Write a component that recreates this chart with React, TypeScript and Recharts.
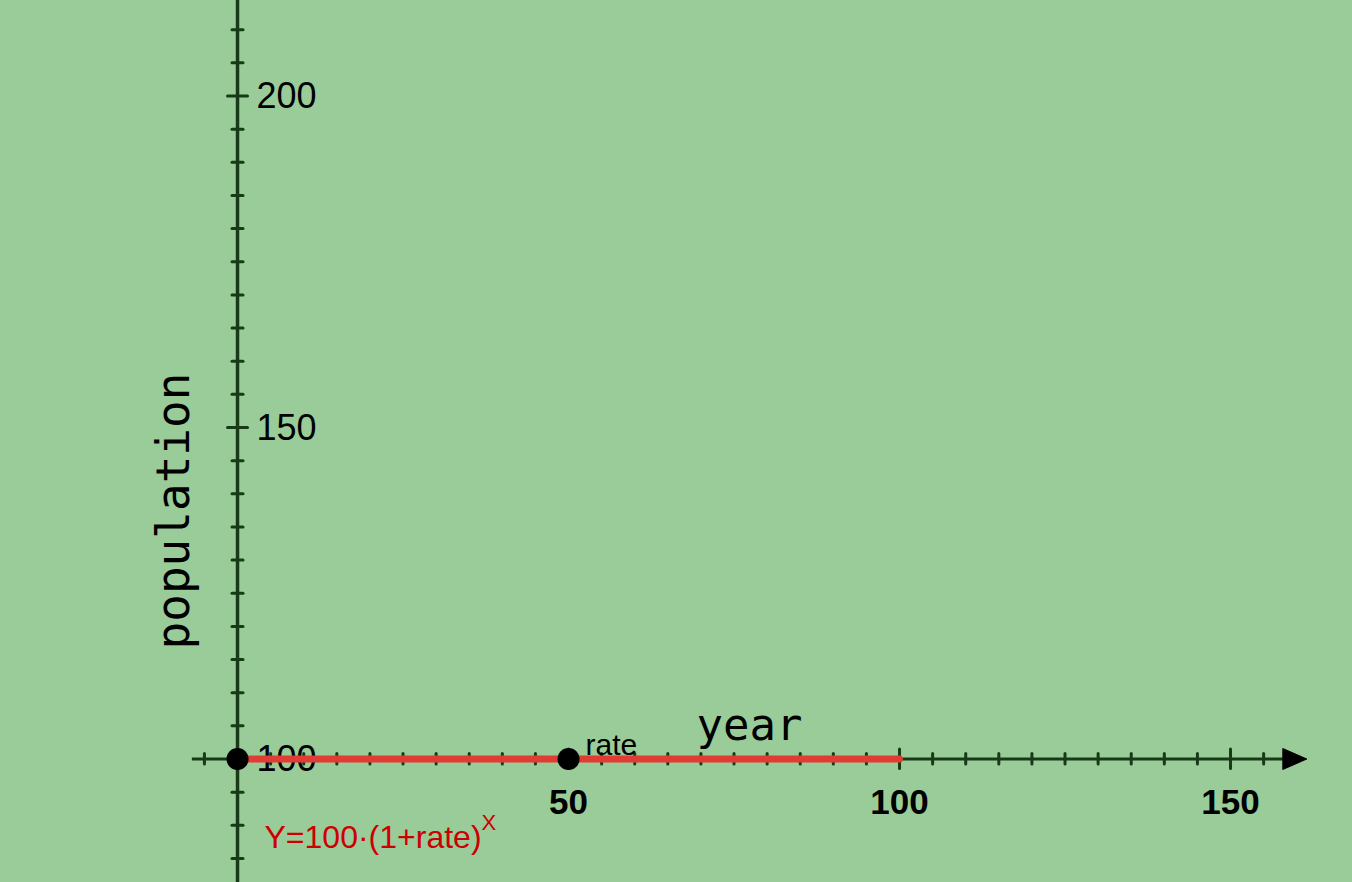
import React from 'react';
import { ComposedChart, XAxis, YAxis, Scatter, ReferenceLine } from 'recharts';

// ---- data ----
const curveYears = [0, 100];
const curvePopulation = [100, 100];
const pointYears = [0, 50];
const pointPopulation = [100, 100];
const pointLabels = ['', 'rate'];
const xMajorTicks = [50, 100, 150];
const xTickLabels = ['50', '100', '150'];
const xMinorTicks = [-5, 5, 10, 15, 20, 25, 30, 35, 40, 45, 55, 60, 65, 70, 75, 80, 85, 90, 95, 105, 110, 115, 120, 125, 130, 135, 140, 145, 155];
const yMajorTicks = [100, 150, 200];
const yTickLabels = ['100', '150', '200'];
const yMinorTicks = [85, 90, 95, 105, 110, 115, 120, 125, 130, 135, 140, 145, 155, 160, 165, 170, 175, 180, 185, 190, 195, 205, 210];
const xAxisTitle = 'year';
const yAxisTitle = 'population';
const formulaText = 'Y=100·(1+rate)';
const formulaExponent = 'X';

// ---- view ----
const X_DOMAIN: [number, number] = [-35.88, 168.35];
const Y_DOMAIN: [number, number] = [81.45, 214.48];
const X_AXIS_START = -6.9;
const X_AXIS_END = 157.9;
const ORIGIN_X = 0;
const ORIGIN_Y = 100;

const W = 1352;
const H = 882;
const BG = '#99cc99';
const AXIS = '#173a17';
const RED = '#e23b33';
const FONT = '"Liberation Sans", Arial, Helvetica, sans-serif';
const MONO = '"DejaVu Sans Mono", "Liberation Mono", monospace';

const curveData = curveYears.map((x, i) => ({ x, y: curvePopulation[i] }));
const pointData = pointYears.map((x, i) => ({ x, y: pointPopulation[i], label: pointLabels[i] }));
const xMinorData = xMinorTicks.map((x) => ({ x, y: ORIGIN_Y }));
const xMajorData = xMajorTicks.map((x, i) => ({ x, y: ORIGIN_Y, label: xTickLabels[i] }));
const yMinorData = yMinorTicks.map((y) => ({ x: ORIGIN_X, y }));
const yMajorData = yMajorTicks.map((y, i) => ({ x: ORIGIN_X, y, label: yTickLabels[i], major: y !== ORIGIN_Y }));
const originData = [{ x: ORIGIN_X, y: ORIGIN_Y }];
const arrowData = [{ x: X_AXIS_END, y: ORIGIN_Y }];

export default function App() {
  return (
    <div style={{ position: 'absolute', left: 0, top: 0, width: W, height: H, background: BG }}>
      <ComposedChart width={W} height={H} margin={{ top: 0, right: 0, bottom: 0, left: 0 }}>
        <XAxis type="number" dataKey="x" domain={X_DOMAIN} hide allowDataOverflow />
        <YAxis type="number" dataKey="y" domain={Y_DOMAIN} hide allowDataOverflow />

        {/* axes lines */}
        <ReferenceLine x={ORIGIN_X} stroke={AXIS} strokeWidth={3.5} />
        <ReferenceLine
          segment={[{ x: X_AXIS_START, y: ORIGIN_Y }, { x: X_AXIS_END, y: ORIGIN_Y }]}
          stroke={AXIS}
          strokeWidth={3}
        />

        {/* arrow head */}
        <Scatter
          data={arrowData}
          dataKey="y"
          isAnimationActive={false}
          shape={(p: any) => (
            <polygon
              points={`${p.cx},${p.cy - 10.5} ${p.cx + 24},${p.cy} ${p.cx},${p.cy + 10.5}`}
              fill="#000"
              stroke="#000"
              strokeWidth={1}
              strokeLinejoin="round"
            />
          )}
        />

        {/* x ticks */}
        <Scatter
          data={xMinorData}
          dataKey="y"
          isAnimationActive={false}
          shape={(p: any) => (
            <line x1={p.cx} x2={p.cx} y1={p.cy - 5.5} y2={p.cy + 5} stroke={AXIS} strokeWidth={3} strokeLinecap="round" />
          )}
        />
        <Scatter
          data={xMajorData}
          dataKey="y"
          isAnimationActive={false}
          shape={(p: any) => (
            <g>
              <line x1={p.cx} x2={p.cx} y1={p.cy - 10} y2={p.cy + 9.5} stroke={AXIS} strokeWidth={3} strokeLinecap="round" />
              <text x={p.cx} y={p.cy + 55} textAnchor="middle" fontFamily={FONT} fontSize={35} fontWeight="bold" fill="#000">
                {p.payload.label}
              </text>
            </g>
          )}
        />

        {/* y ticks */}
        <Scatter
          data={yMinorData}
          dataKey="y"
          isAnimationActive={false}
          shape={(p: any) => (
            <line x1={p.cx - 5.5} x2={p.cx + 5.5} y1={p.cy} y2={p.cy} stroke={AXIS} strokeWidth={3} strokeLinecap="round" />
          )}
        />
        <Scatter
          data={yMajorData}
          dataKey="y"
          isAnimationActive={false}
          shape={(p: any) => (
            <g>
              {p.payload.major && (
                <line x1={p.cx - 10} x2={p.cx + 10} y1={p.cy} y2={p.cy} stroke={AXIS} strokeWidth={3} strokeLinecap="round" />
              )}
              <text x={p.cx + 19} y={p.cy + 12} textAnchor="start" fontFamily={FONT} fontSize={36} fill="#000">
                {p.payload.label}
              </text>
            </g>
          )}
        />

        {/* titles & formula, anchored to the origin */}
        <Scatter
          data={originData}
          dataKey="y"
          isAnimationActive={false}
          shape={(p: any) => (
            <g>
              <text x={p.cx + 512} y={p.cy - 19} textAnchor="middle" fontFamily={MONO} fontSize={44} fill="#000">
                {xAxisTitle}
              </text>
              <text
                x={p.cx - 49}
                y={p.cy - 248}
                textAnchor="middle"
                fontFamily={MONO}
                fontSize={46}
                fill="#000"
                transform={`rotate(-90 ${p.cx - 49} ${p.cy - 248})`}
              >
                {yAxisTitle}
              </text>
              <text x={p.cx + 27} y={p.cy + 89} fontFamily={FONT} fontSize={32} fill="#cc0000">
                {formulaText}
                <tspan fontSize={22} dy={-18}>{formulaExponent}</tspan>
              </text>
            </g>
          )}
        />

        {/* the curve Y = 100·(1+rate)^X */}
        <Scatter
          data={curveData}
          dataKey="y"
          isAnimationActive={false}
          line={{ stroke: RED, strokeWidth: 7, strokeLinecap: 'round' }}
          lineType="joint"
          shape={() => <g />}
        />

        <Scatter
          data={pointData}
          dataKey="y"
          isAnimationActive={false}
          shape={(p: any) => (
            <g>
              <circle cx={p.cx} cy={p.cy} r={11} fill="#000" />
              {p.payload && p.payload.label ? (
                <text x={p.cx + 17} y={p.cy - 4} fontFamily={FONT} fontSize={30} fill="#000">
                  {p.payload.label}
                </text>
              ) : null}
            </g>
          )}
        />
      </ComposedChart>
    </div>
  );
}
